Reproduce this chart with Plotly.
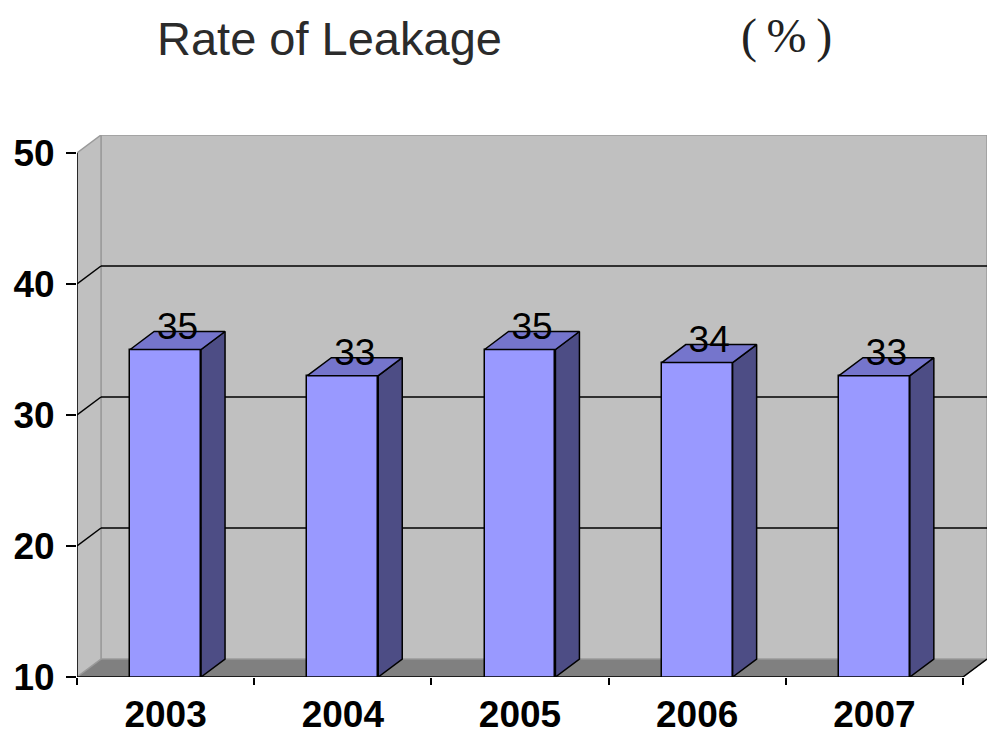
import plotly.graph_objects as go

# ---- data ----
years = ["2003", "2004", "2005", "2006", "2007"]
leakage = [35, 33, 35, 34, 33]
y_ticks = [10, 20, 30, 40, 50]
title_text = "Rate of Leakage"
unit_text = "(\u2009%\u2009)"

# ---- geometry / styling ----
W, H = 987, 735
ML, MR, MT, MB = 77, 0, 135, 58
DX_PX, DY_PX = 24, 18
plot_w = W - ML - MR
plot_h = H - MT - MB
n = len(years)
x_unit = (plot_w - DX_PX) / n
y_lo, y_hi = y_ticks[0], y_ticks[-1]
y_unit = (plot_h - DY_PX) / (y_hi - y_lo)
DX = DX_PX / x_unit
DY = DY_PX / y_unit
x0, x1 = -0.5, n - 0.5
BW = 0.4

FRONT = "#9999FF"
SIDE = "#4D4D85"
TOP = "#7575CC"
WALL = "#C0C0C0"
FLOOR = "#808080"

xs = list(range(n))

fig = go.Figure()

# front faces
fig.add_trace(go.Bar(
    x=xs, y=leakage, width=BW,
    marker=dict(color=FRONT, line=dict(color="black", width=1.5)),
    hoverinfo="skip", showlegend=False,
))

# side faces
sx, sy = [], []
for i, v in enumerate(leakage):
    r = xs[i] + BW / 2
    sx += [r, r + DX, r + DX, r, r, None]
    sy += [y_lo, y_lo + DY, v + DY, v, y_lo, None]
fig.add_trace(go.Scatter(
    x=sx, y=sy, mode="lines", fill="toself", fillcolor=SIDE,
    line=dict(color="black", width=1.5), hoverinfo="skip", showlegend=False,
))

# top faces
tx, ty = [], []
for i, v in enumerate(leakage):
    l = xs[i] - BW / 2
    r = xs[i] + BW / 2
    tx += [l, l + DX, r + DX, r, l, None]
    ty += [v, v + DY, v + DY, v, v, None]
fig.add_trace(go.Scatter(
    x=tx, y=ty, mode="lines", fill="toself", fillcolor=TOP,
    line=dict(color="black", width=1.5), hoverinfo="skip", showlegend=False,
))

# data labels
fig.add_trace(go.Scatter(
    x=[x + DX / 2 for x in xs],
    y=[v + DY + 1.5 / y_unit for v in leakage],
    mode="text", text=[str(v) for v in leakage],
    textposition="middle center",
    textfont=dict(family="Liberation Sans, Arial", size=37, color="black"),
    hoverinfo="skip", showlegend=False, cliponaxis=False,
))

shapes = []
# floor
shapes.append(dict(type="path", xref="x", yref="y", layer="below",
                   path=f"M {x0},{y_lo} L {x1},{y_lo} L {x1+DX},{y_lo+DY} L {x0+DX},{y_lo+DY} Z",
                   fillcolor=FLOOR, line=dict(color="#6a6a6a", width=1)))
# back wall
shapes.append(dict(type="rect", xref="x", yref="y", layer="below",
                   x0=x0 + DX, x1=x1 + DX, y0=y_lo + DY, y1=y_hi + DY,
                   fillcolor=WALL, line=dict(color="#9a9a9a", width=1.5)))
# left wall
shapes.append(dict(type="path", xref="x", yref="y", layer="below",
                   path=f"M {x0},{y_lo} L {x0+DX},{y_lo+DY} L {x0+DX},{y_hi+DY} L {x0},{y_hi} Z",
                   fillcolor=WALL, line=dict(color="#9a9a9a", width=1.5)))
# gridlines
for t in y_ticks[1:-1]:
    shapes.append(dict(type="line", xref="x", yref="y", layer="below",
                       x0=x0 + DX, x1=x1 + DX, y0=t + DY, y1=t + DY,
                       line=dict(color="black", width=1.5)))
    shapes.append(dict(type="line", xref="x", yref="y", layer="below",
                       x0=x0, x1=x0 + DX, y0=t, y1=t + DY,
                       line=dict(color="black", width=1.5)))
# axis lines
shapes.append(dict(type="line", xref="x", yref="y", x0=x0, x1=x0, y0=y_lo, y1=y_hi,
                   line=dict(color="black", width=1.5)))
shapes.append(dict(type="line", xref="x", yref="y", x0=x0, x1=x1, y0=y_lo, y1=y_lo,
                   line=dict(color="black", width=1.5)))
shapes.append(dict(type="line", xref="x", yref="y", x0=x1, x1=x1 + DX, y0=y_lo, y1=y_lo + DY,
                   line=dict(color="black", width=1.5)))

annotations = [
    dict(text=title_text, xref="paper", yref="paper",
         x=(329 - ML) / plot_w, y=(H - MB - 38) / plot_h,
         xanchor="center", yanchor="middle", showarrow=False,
         font=dict(family="Liberation Sans, Arial", size=47, color="#2b2b2b")),
    dict(text=unit_text, xref="paper", yref="paper",
         x=(786 - ML) / plot_w, y=(H - MB - 36) / plot_h,
         xanchor="center", yanchor="middle", showarrow=False,
         font=dict(family="Liberation Serif, Times New Roman", size=48, color="#222222")),
]

fig.update_layout(
    width=W, height=H,
    margin=dict(l=ML, r=MR, t=MT, b=MB, pad=0, autoexpand=False),
    paper_bgcolor="white", plot_bgcolor="white",
    shapes=shapes, annotations=annotations,
    showlegend=False, bargap=0,
    xaxis=dict(
        range=[x0, x1 + DX], showgrid=False, zeroline=False, showline=False,
        automargin=False,
        tickmode="array", tickvals=xs, ticktext=years, ticks="",
        tickfont=dict(family="Liberation Sans, Arial", size=37, color="black", weight="bold"),
        ticklabelstandoff=12,
        minor=dict(tickmode="array", tickvals=[i - 0.5 for i in range(n + 1)],
                   ticks="outside", ticklen=7, tickwidth=1.5, tickcolor="black", showgrid=False),
        fixedrange=True,
    ),
    yaxis=dict(
        range=[y_lo, y_hi + DY], showgrid=False, zeroline=False, showline=False,
        automargin=False,
        tickmode="array", tickvals=y_ticks, ticks="outside", ticklen=10,
        tickwidth=1.5, tickcolor="black",
        tickfont=dict(family="Liberation Sans, Arial", size=37, color="black", weight="bold"),
        ticklabelstandoff=4,
        fixedrange=True,
    ),
)

fig.write_html(
    "out.html",
    config={"displayModeBar": False},
    post_script="document.body.style.margin='0';document.body.style.overflow='hidden';",
)
